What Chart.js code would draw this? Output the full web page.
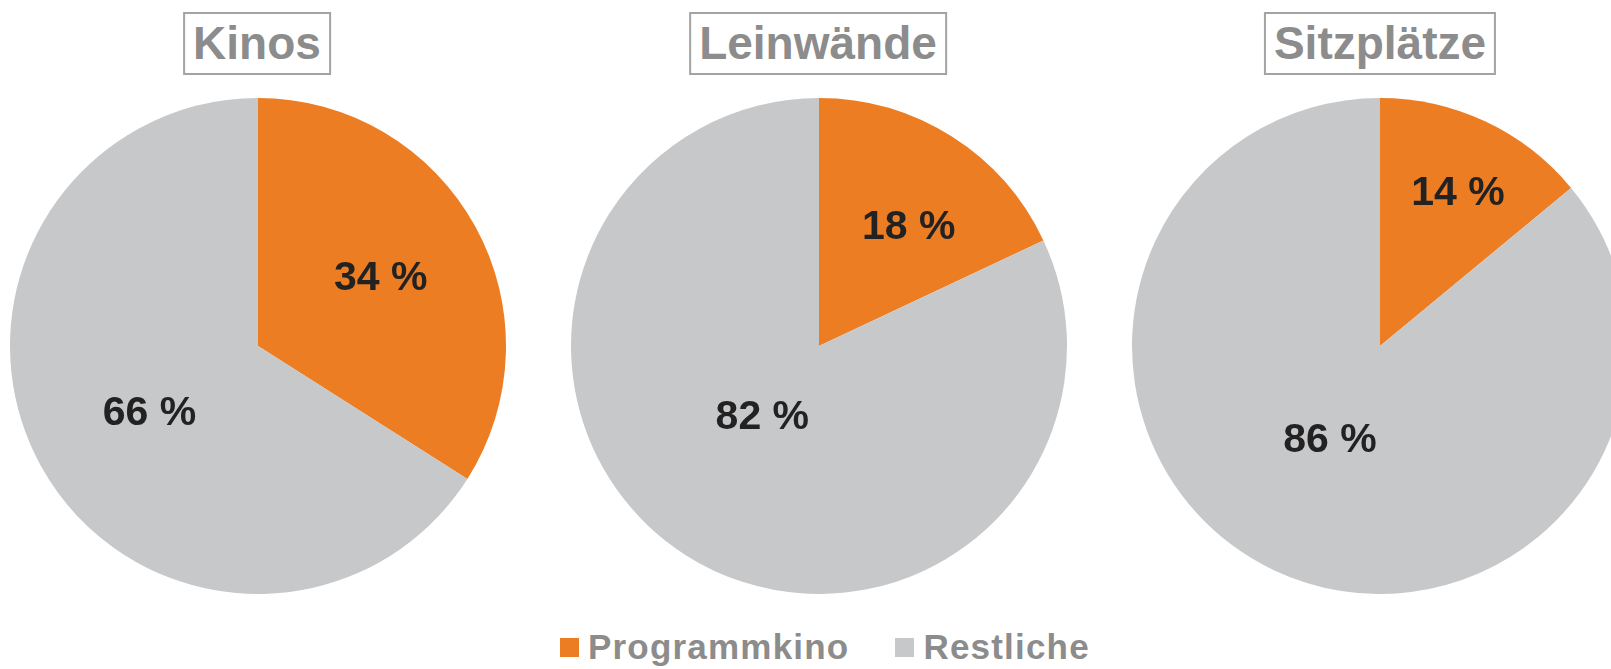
<!DOCTYPE html>
<html>
<head>
<meta charset="utf-8">
<script src="https://cdn.jsdelivr.net/npm/chart.js@4"></script>
<style>
  html, body { margin: 0; padding: 0; background: #fff; overflow: hidden; }
  body { width: 1611px; height: 669px; position: relative; font-family: "Liberation Sans", Arial, sans-serif; }
  .pie { position: absolute; top: 98px; width: 500px; height: 496px; }
  .title {
    position: absolute; top: 12px; height: 59px; line-height: 59px;
    border: 2px solid #a3a3a3; color: #8c8c8c; font-weight: bold; font-size: 46px;
    text-align: center; transform: translateX(-50%); padding: 0 8px; white-space: nowrap;
  }
  .legend {
    position: absolute; top: 629px; left: 560px; white-space: nowrap;
    font-size: 35px; line-height: 35px; font-weight: bold; color: #8c8c8c; letter-spacing: 1.2px;
  }
  .legend span.item { display: inline-block; }
  .legend span.item + span.item { margin-left: 46px; }
  .legend i { display: inline-block; width: 19px; height: 19px; margin-right: 9px; vertical-align: 2px; }
</style>
</head>
<body>
<div class="title" style="left:257px">Kinos</div>
<div class="title" style="left:818px">Leinwände</div>
<div class="title" style="left:1380px">Sitzplätze</div>

<div class="pie" style="left:8px"><canvas id="pie1"></canvas></div>
<div class="pie" style="left:569px"><canvas id="pie2"></canvas></div>
<div class="pie" style="left:1130px"><canvas id="pie3"></canvas></div>

<div class="legend" id="legend"></div>

<script>
const categories = ["Programmkino", "Restliche"];
const kinos = [34, 66];
const leinwaende = [18, 82];
const sitzplaetze = [14, 86];
const colors = ["#ec7d23", "#c7c8ca"];

// draws "34 %" style labels inside each slice
const sliceLabels = {
  id: "sliceLabels",
  afterDatasetsDraw(chart, args, opts) {
    const ctx = chart.ctx;
    const meta = chart.getDatasetMeta(0);
    const values = chart.data.datasets[0].data;
    ctx.save();
    ctx.font = "bold 41px 'Liberation Sans', Arial, sans-serif";
    ctx.fillStyle = "#222222";
    ctx.textAlign = "center";
    ctx.textBaseline = "middle";
    meta.data.forEach((arc, i) => {
      const mid = (arc.startAngle + arc.endAngle) / 2 + opts.turn[i] * Math.PI / 180;
      const r = arc.outerRadius * opts.dist[i];
      const x = arc.x + Math.cos(mid) * r;
      const y = arc.y + Math.sin(mid) * r + 3;
      ctx.fillText(values[i] + " %", x, y);
    });
    ctx.restore();
  }
};

function makePie(id, values, dist, turn) {
  new Chart(document.getElementById(id), {
    type: "pie",
    data: {
      labels: categories,
      datasets: [{ data: values, backgroundColor: colors, borderWidth: 0 }]
    },
    options: {
      responsive: true,
      maintainAspectRatio: false,
      animation: false,
      layout: { padding: 0 },
      plugins: {
        legend: { display: false },
        tooltip: { enabled: false },
        sliceLabels: { dist: dist, turn: turn }
      }
    },
    plugins: [sliceLabels]
  });
}

makePie("pie1", kinos, [0.57, 0.51], [-1, -2]);
makePie("pie2", leinwaende, [0.61, 0.36], [4, 7]);
makePie("pie3", sitzplaetze, [0.70, 0.42], [1.5, 3.5]);

document.getElementById("legend").innerHTML = categories
  .map((c, i) => '<span class="item"><i style="background:' + colors[i] + '"></i>' + c + '</span>')
  .join("");
</script>
</body>
</html>
